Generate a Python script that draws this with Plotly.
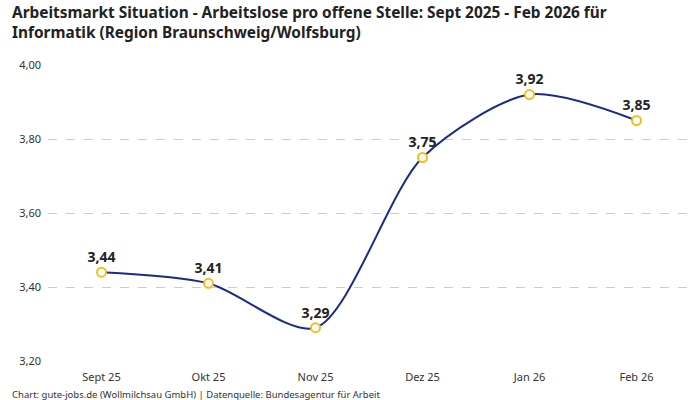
import plotly.graph_objects as go

# Arbeitslose pro offene Stelle, Informatik (Region Braunschweig/Wolfsburg)
monate = ['Sept 25', 'Okt 25', 'Nov 25', 'Dez 25', 'Jan 26', 'Feb 26']
werte = [3.44, 3.41, 3.29, 3.75, 3.92, 3.85]
y_ticks = [3.20, 3.40, 3.60, 3.80, 4.00]

font_name = 'Noto Sans'

# plot area in pixels: x 48..690, y 65..361
W, H = 700, 400
L, R, T, B = 48, 10, 65, 39
plot_w = W - L - R
plot_h = H - T - B

fig = go.Figure()

fig.add_trace(go.Scatter(
    x=monate,
    y=werte,
    mode='lines+markers+text',
    line=dict(color='#1b2a8c', width=2, shape='spline', smoothing=0.8),
    marker=dict(size=9, color='white', line=dict(color='#f7bd1a', width=2)),
    text=[f'{v:.2f}'.replace('.', ',') for v in werte],
    textposition='top center',
    textfont=dict(family=font_name, size=14, color='#222222', weight='bold'),
    cliponaxis=False,
    hoverinfo='skip',
))

fig.update_layout(
    width=W,
    height=H,
    margin=dict(l=L, r=R, t=T, b=B),
    paper_bgcolor='white',
    plot_bgcolor='white',
    separators=',.',
    showlegend=False,
    font=dict(family=font_name, size=11, color='#333333'),
    xaxis=dict(
        range=[-0.5, len(monate) - 0.5],
        showgrid=False, showline=False, zeroline=False, automargin=False,
        ticks='', tickfont=dict(size=11, color='#333333'),
        ticklabelstandoff=8,
    ),
    yaxis=dict(
        range=[3.2, 4.0],
        tickvals=y_ticks,
        tickformat='.2f',
        showgrid=True, gridcolor='#cccccc', griddash='dash', gridwidth=1,
        zeroline=False, showline=False, ticks='', automargin=False,
        tickfont=dict(size=11, color='#333333'),
        ticklabelstandoff=6,
    ),
    annotations=[
        dict(
            text='Arbeitsmarkt Situation - Arbeitslose pro offene Stelle: Sept 2025 - Feb 2026 für<br>Informatik (Region Braunschweig/Wolfsburg)',
            xref='paper', yref='paper',
            x=(10 - L) / plot_w, y=1 + T / plot_h,
            xanchor='left', yanchor='top', align='left', showarrow=False,
            font=dict(family=font_name, size=15.4, color='#222222', weight='bold'),
        ),
        dict(
            text='Chart: gute-jobs.de (Wollmilchsau GmbH) | Datenquelle: Bundesagentur für Arbeit',
            xref='paper', yref='paper',
            x=(10 - L) / plot_w, y=-(386 - (H - B)) / plot_h,
            xanchor='left', yanchor='top', showarrow=False,
            font=dict(family=font_name, size=9.5, color='#333333'),
        ),
    ],
)

# drop the default 8px body margin so the chart fills the window
fig.write_html('out.html', config={'displayModeBar': False},
               post_script="document.body.style.margin = '0';")
